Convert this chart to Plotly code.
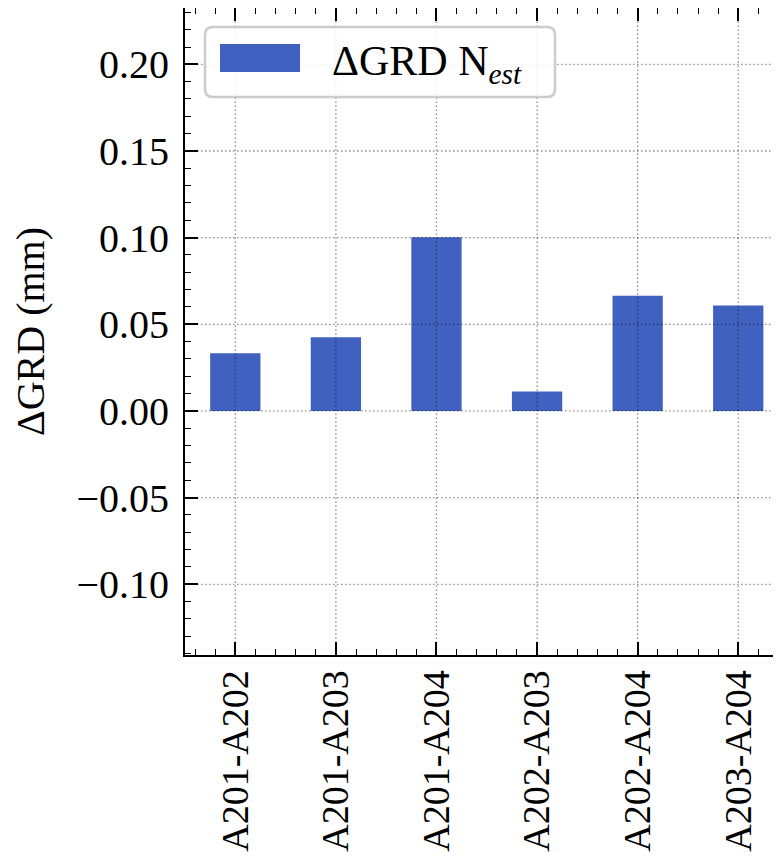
import plotly.graph_objects as go

categories = ["A201-A202", "A201-A203", "A201-A204", "A202-A203", "A202-A204", "A203-A204"]
delta_grd = [0.0333, 0.0426, 0.1002, 0.0112, 0.0665, 0.0609]
y_tickvals = [-0.10, -0.05, 0.00, 0.05, 0.10, 0.15, 0.20]
y_ticktext = ["\u22120.10", "\u22120.05", "0.00", "0.05", "0.10", "0.15", "0.20"]
legend_label = "\u0394GRD N<sub><i>est</i></sub>"
y_title = "\u0394GRD (mm)"

# page body has an 8px margin; the figure is sized so the page does not scroll
OFF = 8
W, H = 781 - OFF, 865 - 2 * OFF
ML, MR, MT = 185 - OFF, 0, 8 - OFF
MB = H - (655 - OFF)
YR = [-0.1408, 0.2325]
XR = [-0.5, 5.425]
FONT = "Liberation Serif"
BAR = "#4161C1"
GRID = "rgba(0,0,0,0.45)"

xpos = list(range(len(categories)))

fig = go.Figure()
fig.add_trace(go.Bar(x=xpos, y=delta_grd, width=0.5, name=legend_label,
                     marker=dict(color=BAR, line=dict(width=0)), showlegend=False))
fig.add_trace(go.Scatter(x=[0], y=[0], yaxis="y2", mode="markers", marker=dict(opacity=0),
                         showlegend=False, hoverinfo="skip"))

shapes = []
for xv in xpos:
    shapes.append(dict(type="line", xref="x", yref="paper", x0=xv, x1=xv, y0=0, y1=1,
                       line=dict(color=GRID, width=1.3, dash="1.5px,2.5px"), layer="above"))
for yv in y_tickvals:
    shapes.append(dict(type="line", xref="paper", yref="y", x0=0, x1=1, y0=yv, y1=yv,
                       line=dict(color=GRID, width=1.3, dash="1.5px,2.5px"), layer="above"))

pw = W - ML - MR
ph = H - MT - MB
def px(X):  # page pixel -> paper
    return (X - OFF - ML) / pw
def py(Y):
    return (H - MB - (Y - OFF)) / ph

# legend box (pixel geometry anchored at its bottom-left corner)
bx0, by0, bx1, by1 = 205, 27, 555, 97
w, h, r = bx1 - bx0, by1 - by0, 8
path = (f"M {r},0 L {w-r},0 Q {w},0 {w},{r} L {w},{h-r} Q {w},{h} {w-r},{h} "
        f"L {r},{h} Q 0,{h} 0,{h-r} L 0,{r} Q 0,0 {r},0 Z")
shapes.append(dict(type="path", xref="paper", yref="paper", xsizemode="pixel", ysizemode="pixel",
                   xanchor=px(bx0), yanchor=py(by1), path=path,
                   fillcolor="rgba(255,255,255,0.85)", line=dict(color="#cccccc", width=2.5),
                   layer="above"))
shapes.append(dict(type="rect", xref="paper", yref="paper", xsizemode="pixel", ysizemode="pixel",
                   xanchor=px(bx0), yanchor=py(by1), x0=15, x1=95, y0=by1 - 72, y1=by1 - 44,
                   fillcolor=BAR, line=dict(width=0), layer="above"))

fig.add_annotation(xref="paper", yref="paper", x=px(330), y=py(64), xanchor="left", yanchor="middle",
                   text=legend_label, showarrow=False, font=dict(family=FONT, size=42, color="black"))

tick_font = dict(family=FONT, size=40, color="black")
fig.update_layout(
    width=W, height=H, margin=dict(l=ML, r=MR, t=MT, b=MB, pad=0, autoexpand=False),
    paper_bgcolor="white", plot_bgcolor="white", shapes=shapes, showlegend=False,
    font=dict(family=FONT, size=40, color="black"),
    xaxis=dict(range=XR, tickmode="array", tickvals=xpos, ticktext=categories, tickangle=-90,
               tickfont=dict(family=FONT, size=38, color="black"),
               ticks="inside", ticklen=13, tickwidth=1.5, tickcolor="black",
               showline=True, linecolor="black", linewidth=2, mirror="ticks",
               showgrid=False, zeroline=False, ticklabelstandoff=-2,
               minor=dict(tickmode="linear", tick0=0, dtick=0.2, ticks="inside", ticklen=6,
                          tickwidth=1.3, tickcolor="black", showgrid=False)),
    yaxis=dict(range=YR, tickmode="array", tickvals=y_tickvals, ticktext=y_ticktext,
               tickfont=tick_font, ticks="inside", ticklen=13, tickwidth=1.5, tickcolor="black",
               showline=True, linecolor="black", linewidth=2, mirror=False,
               showgrid=False, zeroline=False, ticklabelstandoff=6,
               title=dict(text=y_title, font=dict(family=FONT, size=40, color="black"), standoff=22),
               minor=dict(tickmode="linear", tick0=0, dtick=0.01, ticks="inside", ticklen=6,
                          tickwidth=1.3, tickcolor="black", showgrid=False)),
    yaxis2=dict(range=YR, overlaying="y", side="right", tickmode="array", tickvals=y_tickvals,
                showticklabels=False, ticks="inside", ticklen=6, tickwidth=1.5, tickcolor="black",
                showline=False, showgrid=False, zeroline=False),
)

fig.write_html("out.html")
